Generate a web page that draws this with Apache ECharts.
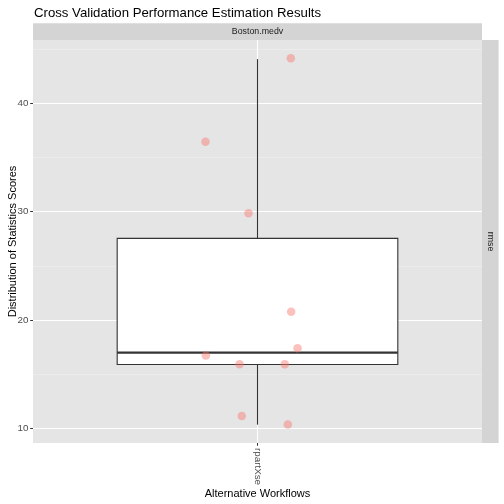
<!DOCTYPE html>
<html>
<head>
<meta charset="utf-8">
<script src="https://cdn.jsdelivr.net/npm/echarts@6/dist/echarts.min.js"></script>
<style>
  html, body { margin: 0; padding: 0; background: #fff; }
  #chart { width: 504px; height: 504px; }
</style>
</head>
<body>
<div id="chart"></div>
<script>
// data
var workflows = ["rpartXse"]
var taskName = "Boston.medv"
var metricName = "rmse"
// [x, whisker low, q1, median, q3, whisker high]
var boxStats = [[1, 10.36, 15.9, 17.01, 27.53, 44.06]]
// jittered cv scores: [x position, score]
var cvScores = [
    [1.089, 44.13],
    [0.861, 36.43],
    [0.976, 29.85],
    [1.090, 20.77],
    [1.107, 17.41],
    [0.862, 16.73],
    [0.952, 15.94],
    [1.073, 15.94],
    [0.958, 11.16],
    [1.081, 10.37],
]
var yMajor = [10, 20, 30, 40]
var yMinor = [15, 25, 35, 45]

var gridLeft = 33, gridRight = 22, gridTop = 40, gridBottom = 61
var font = "Liberation Sans"

var myChart = echarts.init(document.getElementById("chart"), null, { renderer: "canvas" })

function gridLines() {
    var lines = []
    yMinor.forEach(v => lines.push({ yAxis: v, lineStyle: { color: "#F2F2F2", width: 0.55, type: "solid" } }))
    yMajor.forEach(v => lines.push({ yAxis: v, lineStyle: { color: "#FFFFFF", width: 1.1, type: "solid" } }))
    lines.push({ xAxis: 1, lineStyle: { color: "#FFFFFF", width: 1.1, type: "solid" } })
    return lines
}

var option = {
    backgroundColor: "#FFFFFF",
    animation: false,
    title: {
        text: "Cross Validation Performance Estimation Results",
        left: 29,
        top: 2,
        textStyle: {
            fontFamily: font,
            fontSize: 13.2,
            fontWeight: "normal",
            color: "#000000",
        },
    },
    graphic: [
        // top facet strip
        {
            type: "rect",
            shape: { x: gridLeft, y: 23.3, width: 504 - gridLeft - gridRight, height: 16.7 },
            style: { fill: "#D4D4D4" },
            silent: true,
        },
        {
            type: "text",
            x: gridLeft + (504 - gridLeft - gridRight) / 2,
            y: 31.6,
            style: {
                text: taskName,
                fill: "#1A1A1A",
                font: "8.8px " + font,
                align: "center",
                verticalAlign: "middle",
            },
            silent: true,
        },
        // right facet strip
        {
            type: "rect",
            shape: { x: 504 - gridRight, y: gridTop, width: 16.6, height: 504 - gridTop - gridBottom },
            style: { fill: "#D4D4D4" },
            silent: true,
        },
        {
            type: "text",
            x: 504 - gridRight + 8.3,
            y: gridTop + (504 - gridTop - gridBottom) / 2,
            rotation: -Math.PI / 2,
            style: {
                text: metricName,
                fill: "#1A1A1A",
                font: "8.8px " + font,
                align: "center",
                verticalAlign: "middle",
            },
            silent: true,
        },
    ],
    grid: {
        left: gridLeft,
        right: gridRight,
        top: gridTop,
        bottom: gridBottom,
        show: true,
        backgroundColor: "#E5E5E5",
        borderWidth: 0,
        containLabel: false,
        outerBoundsMode: "none",
    },
    xAxis: {
        type: "value",
        min: 0.4,
        max: 1.6,
        name: "Alternative Workflows",
        nameLocation: "middle",
        nameGap: 45,
        nameMoveOverlap: false,
        nameTextStyle: { fontFamily: font, fontSize: 11, color: "#000000" },
        axisLine: { show: false },
        splitLine: { show: false },
        axisTick: {
            show: true,
            customValues: [1],
            length: 2.8,
            lineStyle: { color: "#333333", width: 1 },
        },
        axisLabel: {
            customValues: [1],
            rotate: -90,
            margin: 5,
            fontFamily: font,
            fontSize: 9.8,
            color: "#4D4D4D",
            formatter: v => workflows[Math.round(v) - 1] || "",
        },
    },
    yAxis: {
        type: "value",
        min: 8.67,
        max: 45.82,
        name: "Distribution of Statistics Scores",
        nameLocation: "middle",
        nameGap: 15,
        nameMoveOverlap: false,
        nameTextStyle: { fontFamily: font, fontSize: 11, color: "#000000" },
        axisLine: { show: false },
        splitLine: { show: false },
        axisTick: {
            show: true,
            customValues: yMajor,
            length: 2.8,
            lineStyle: { color: "#333333", width: 1 },
        },
        axisLabel: {
            customValues: yMajor,
            margin: 4.5,
            fontFamily: font,
            fontSize: 9.8,
            color: "#4D4D4D",
        },
    },
    series: [
        {
            // panel grid lines
            type: "line",
            data: [],
            silent: true,
            z: 1,
            markLine: {
                silent: true,
                z: 1,
                symbol: ["none", "none"],
                label: { show: false },
                data: gridLines(),
                animation: false,
            },
        },
        {
            type: "custom",
            z: 3,
            data: boxStats,
            encode: { x: 0, y: [1, 2, 3, 4, 5] },
            renderItem: (params, api) => {
                var x = api.value(0)
                var half = 0.375
                var wLo = api.coord([x, api.value(1)])
                var q1L = api.coord([x - half, api.value(2)])
                var med = api.coord([x - half, api.value(3)])
                var medR = api.coord([x + half, api.value(3)])
                var q3R = api.coord([x + half, api.value(4)])
                var wHi = api.coord([x, api.value(5)])
                var stroke = { stroke: "#333333", lineWidth: 1.1, fill: null }
                return {
                    type: "group",
                    children: [
                        { type: "line", shape: { x1: wLo[0], y1: wLo[1], x2: wLo[0], y2: q1L[1] }, style: stroke },
                        { type: "line", shape: { x1: wHi[0], y1: q3R[1], x2: wHi[0], y2: wHi[1] }, style: stroke },
                        {
                            type: "rect",
                            shape: { x: q1L[0], y: q3R[1], width: q3R[0] - q1L[0], height: q1L[1] - q3R[1] },
                            style: { fill: "#FFFFFF", stroke: "#333333", lineWidth: 1.1 },
                        },
                        {
                            type: "line",
                            shape: { x1: med[0], y1: med[1], x2: medR[0], y2: medR[1] },
                            style: { stroke: "#333333", lineWidth: 2.2 },
                        },
                    ],
                }
            },
        },
        {
            type: "scatter",
            z: 4,
            data: cvScores,
            symbolSize: 8.5,
            itemStyle: { color: "#F8766D", opacity: 0.45 },
        },
    ],
}

myChart.setOption(option, true)
</script>
</body>
</html>
